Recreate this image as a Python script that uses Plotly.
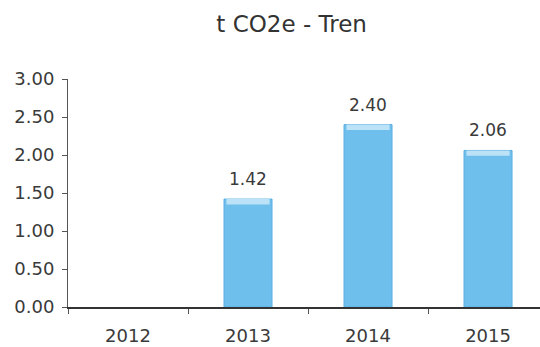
import plotly.graph_objects as go

# Emissions per year (t CO2e), rail transport
years = ["2012", "2013", "2014", "2015"]
values = [None, 1.42, 2.40, 2.06]
value_labels = ["", "1.42", "2.40", "2.06"]
y_ticks = [0.0, 0.5, 1.0, 1.5, 2.0, 2.5, 3.0]
y_tick_text = ["0.00", "0.50", "1.00", "1.50", "2.00", "2.50", "3.00"]

bar_color = "#6FBFEC"
edge_color = "#5AAEE0"
shine_color = "#BCE2F7"
text_color = "#3a3a3a"
font_family = "DejaVu Sans, Arial, sans-serif"

fig = go.Figure()

fig.add_trace(go.Bar(
    x=years, y=values, width=0.4,
    marker=dict(color=bar_color, line=dict(color=edge_color, width=1)),
    hoverinfo="skip",
))

# thin lighter band along the top of each bar
band = 0.07
shine_base = [v - band if v is not None else None for v in values]
shine_h = [band if v is not None else None for v in values]
fig.add_trace(go.Bar(
    x=years, y=shine_h, base=shine_base, width=0.36,
    marker=dict(color=shine_color, line=dict(width=0)),
    hoverinfo="skip",
))

# value labels above the bars (x given as category index)
for i, (v, lab) in enumerate(zip(values, value_labels)):
    if v is None:
        continue
    fig.add_annotation(
        x=i, y=v, xref="x", yref="y", text=lab, showarrow=False,
        yanchor="bottom", yshift=8,
        font=dict(size=17, color=text_color, family=font_family),
    )

fig.update_layout(
    width=540, height=347,
    margin=dict(l=68, r=0, t=79, b=40),
    paper_bgcolor="white", plot_bgcolor="white",
    showlegend=False, barmode="overlay",
    title=dict(
        text="t CO2e - Tren", x=0.54, xanchor="center", y=0.93, yanchor="middle",
        font=dict(size=23, color="#333333", family=font_family),
    ),
    font=dict(family=font_family, color=text_color, size=17),
)

fig.update_xaxes(
    type="category", categoryorder="array", categoryarray=years,
    range=[-0.5, 3.433],
    showline=True, linecolor="#333333", linewidth=1.6,
    ticks="outside", tickson="boundaries", ticklen=5, tickcolor="#555555",
    showgrid=False, zeroline=False,
    tickfont=dict(size=18, color=text_color),
    ticklabelstandoff=12,
)
fig.update_yaxes(
    range=[0, 3], tickvals=y_ticks, ticktext=y_tick_text,
    showline=True, linecolor="#555555", linewidth=1,
    ticks="outside", ticklen=5, tickcolor="#555555",
    showgrid=False, zeroline=False,
    tickfont=dict(size=18, color=text_color),
    ticklabelstandoff=4,
)

fig.write_html("out.html")
